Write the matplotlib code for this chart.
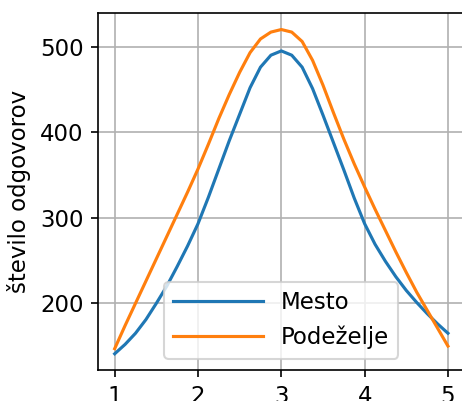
import matplotlib
matplotlib.use("Agg")
import matplotlib.pyplot as plt

# values (every 1/8 along x)
x_vals = [1, 1.125, 1.25, 1.375, 1.5, 1.625, 1.75, 1.875,
          2, 2.125, 2.25, 2.375, 2.5, 2.625, 2.75, 2.875,
          3, 3.125, 3.25, 3.375, 3.5, 3.625, 3.75, 3.875,
          4, 4.125, 4.25, 4.375, 4.5, 4.625, 4.75, 4.875, 5]
mesto = [141, 152, 165, 181, 200, 220, 243, 267,
         293, 324, 357, 390, 421, 452, 476, 490,
         495, 490, 476, 451, 420, 388, 356, 323,
         293, 269, 249, 231, 215, 201, 188, 176, 165]
podezelje = [147, 174, 200, 226, 252, 278, 304, 330,
             357, 386, 416, 444, 470, 493, 509, 517,
             520, 517, 506, 484, 455, 423, 392, 363,
             336, 310, 285, 260, 236, 213, 192, 171, 150]
series_names = ["Mesto", "Podeželje"]
y_label = "število odgovorov"
x_ticks = [1, 2, 3, 4, 5]
y_ticks = [200, 300, 400, 500]

plt.rcParams["font.size"] = 11

fig = plt.figure(figsize=(463 / 150, 401 / 150), dpi=150)
ax = fig.add_axes([0.2117, 0.0773, 0.7918, 0.8895])  # right edge runs off the figure, as in the reference

ax.plot(x_vals, mesto, color="C0", label=series_names[0])  # blue line
ax.plot(x_vals, podezelje, color="C1", label=series_names[1])  # orange line

ax.set_xticks(x_ticks)
ax.set_yticks(y_ticks)
ax.set_ylabel(y_label)
ax.grid(True)
ax.legend(loc="lower center", handlelength=3.9)

fig.savefig("out.png", dpi=150)
